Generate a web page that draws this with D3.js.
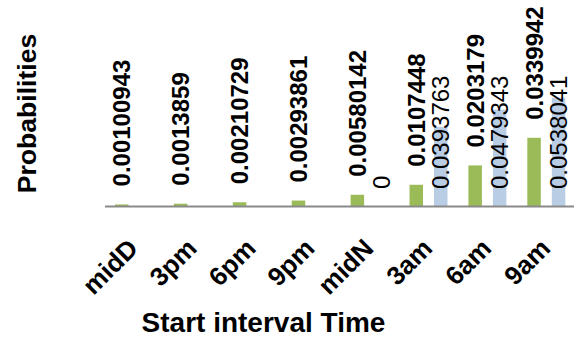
<!DOCTYPE html>
<html>
<head>
<meta charset="utf-8">
<script src="https://cdn.jsdelivr.net/npm/d3@7"></script>
<style>
  html, body { margin: 0; padding: 0; background: #fff; }
  svg { display: block; }
  text { font-family: "Liberation Sans", Arial, sans-serif; }
</style>
</head>
<body>
<svg id="chart" width="574" height="337"></svg>
<script>
const categories = ["midD", "3pm", "6pm", "9pm", "midN", "3am", "6am", "9am"];
const seriesA = [0.00100943, 0.0013859, 0.00210729, 0.00293861, 0.00580142, 0.0107448, 0.0203179, 0.0339942];
const seriesB = [null, null, null, null, 0, 0.0393763, 0.0479343, 0.0538041];
const labelsA = ["0.00100943", "0.0013859", "0.00210729", "0.00293861", "0.00580142", "0.0107448", "0.0203179", "0.0339942"];
const labelsB = [null, null, null, null, "0", "0.0393763", "0.0479343", "0.0538041"];
const yDomain = [0, 0.06];

const svg = d3.select("#chart");
const baseY = 206.5;
const x = d3.scaleBand().domain(categories).range([105, 576.2]).padding(0);
const y = d3.scaleLinear().domain(yDomain).range([baseY, baseY - 121.3]);
const bw = x.bandwidth();
const sub = d3.scaleOrdinal().domain(["A", "B"]).range([0.17, 0.586]);
const barW = bw * 0.229;

const colA = "#9BBB59", colB = "#B9CDE5";

// series B bars
const dataB = categories.map((c, i) => ({c, v: seriesB[i], l: labelsB[i]})).filter(d => d.v !== null);
const dataA = categories.map((c, i) => ({c, v: seriesA[i], l: labelsA[i]}));

svg.append("g").selectAll("rect").data(dataA).join("rect")
  .attr("x", d => x(d.c) + bw * sub("A"))
  .attr("width", barW)
  .attr("y", d => y(d.v))
  .attr("height", d => y(0) - y(d.v))
  .attr("fill", colA);

svg.append("g").selectAll("rect").data(dataB).join("rect")
  .attr("x", d => x(d.c) + bw * sub("B"))
  .attr("width", barW)
  .attr("y", d => y(d.v))
  .attr("height", d => y(0) - y(d.v))
  .attr("fill", colB);

// x axis line
const xAxis = d3.axisBottom(x).tickSize(0).tickFormat("");
const gx = svg.append("g").attr("transform", `translate(0,${baseY})`).call(xAxis);
gx.select(".domain").attr("stroke", "#898989").attr("stroke-width", 2).attr("d", "M105,0H574");

// tick labels
svg.append("g").selectAll("text").data(categories).join("text")
  .attr("transform", d => `translate(${x(d) + bw / 2 + 5},250) rotate(-45)`)
  .attr("text-anchor", "end")
  .attr("font-size", 26)
  .attr("font-weight", "bold")
  .attr("fill", "#000")
  .text(d => d);

// data labels A (bold, outside end)
svg.append("g").selectAll("text").data(dataA).join("text")
  .attr("transform", d => `translate(${x(d.c) + bw * sub("A") + barW / 2 + 8.6},${y(d.v) - 18}) rotate(-90)`)
  .attr("text-anchor", "start")
  .attr("font-size", 24)
  .attr("font-weight", "bold")
  .attr("fill", "#000")
  .text(d => d.l);

// data labels B (regular, inside base)
svg.append("g").selectAll("text").data(dataB).join("text")
  .attr("transform", d => `translate(${x(d.c) + bw * sub("B") + barW / 2 + 8.6},${baseY - 17.5}) rotate(-90)`)
  .attr("text-anchor", "start")
  .attr("font-size", 24)
  .attr("fill", "#000")
  .text(d => d.l);

// axis titles
svg.append("text")
  .attr("transform", "translate(36,113.5) rotate(-90)")
  .attr("text-anchor", "middle")
  .attr("font-size", 26.6)
  .attr("font-weight", "bold")
  .text("Probabilities");

svg.append("text")
  .attr("x", 263.5).attr("y", 331.5)
  .attr("text-anchor", "middle")
  .attr("font-size", 28)
  .attr("font-weight", "bold")
  .text("Start interval Time");
</script>
</body>
</html>
